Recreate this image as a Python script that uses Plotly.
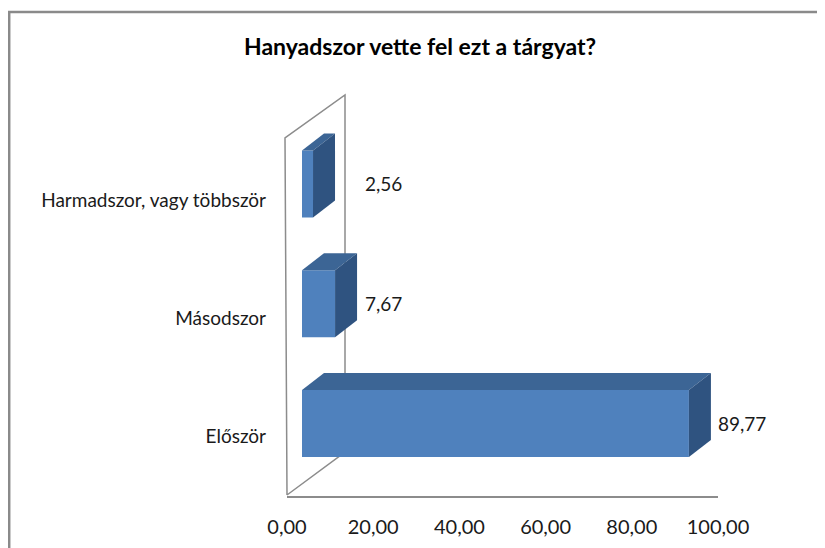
import plotly.graph_objects as go

# ---- data ----
categories = ["Először", "Másodszor", "Harmadszor, vagy többször"]
values = [89.77, 7.67, 2.56]
value_labels = ["89,77", "7,67", "2,56"]
tick_values = [0, 20, 40, 60, 80, 100]
tick_labels = ["0,00", "20,00", "40,00", "60,00", "80,00", "100,00"]
title_text = "Hanyadszor vette fel ezt a tárgyat?"

# ---- layout geometry (pixels of the 825x548 window) ----
W, H = 825, 548
OFF = 8  # page body margin
def px(x):
    return (x - OFF) / W
def py(y):
    return 1 - (y - OFF) / H

FONT = "Lato"
FRONT = "#4F81BD"
TOP = "#3C6595"
SIDE = "#2F5380"
GRID = "#8C8C8C"
TXT = "#1a1a1a"

# bar axes (front faces of the bars)
bx0, bx1 = 302, 733          # x=0 and x=100
by_lo, by_hi = 483.4, 124.1  # y=-0.5 and y=2.5
sx = (bx1 - bx0) / 100.0
sy = (by_lo - by_hi) / 3.0
depth_dx, depth_dy = 22, 17  # depth of bars in pixels
ddx = depth_dx / sx
ddy = depth_dy / sy
bar_w = 0.56

idx = list(range(len(categories)))

fig = go.Figure()
fig.add_trace(go.Bar(
    x=values, y=idx, orientation="h", width=bar_w,
    marker=dict(color=FRONT, line=dict(width=0)),
    xaxis="x", yaxis="y", hoverinfo="skip", showlegend=False,
))

shapes = []
# outer frame
shapes.append(dict(type="path", xref="paper", yref="paper",
                   path=f"M {px(9.2)},{py(548)} L {px(9.2)},{py(12)} L {px(825)},{py(12)}",
                   line=dict(color="#8A8A8A", width=2.5), layer="below"))
# side wall + floor edge
wall = (f"M {px(287)},{py(495)} L {px(285)},{py(138)} L {px(345)},{py(95)} "
        f"L {px(345)},{py(452)} L {px(287)},{py(495)}")
shapes.append(dict(type="path", xref="paper", yref="paper", path=wall,
                   line=dict(color=GRID, width=1.5), layer="below"))

# 3D faces computed from the data
for i, v in zip(idx, values):
    yt = i + bar_w / 2
    yb = i - bar_w / 2
    top = f"M 0,{yt} L {v},{yt} L {v + ddx},{yt + ddy} L {ddx},{yt + ddy} Z"
    side = f"M {v},{yb} L {v},{yt} L {v + ddx},{yt + ddy} L {v + ddx},{yb + ddy} Z"
    shapes.append(dict(type="path", xref="x", yref="y", path=top,
                       fillcolor=TOP, line=dict(width=0), layer="above"))
    shapes.append(dict(type="path", xref="x", yref="y", path=side,
                       fillcolor=SIDE, line=dict(width=0), layer="above"))

annotations = []
min_label_x = 13.0
for i, v, t in zip(idx, values, value_labels):
    annotations.append(dict(x=max(v + ddx, min_label_x), y=i, xref="x", yref="y",
                            text=t, showarrow=False, xanchor="left", yanchor="middle",
                            xshift=5, font=dict(family=FONT, size=19, color=TXT)))
annotations.append(dict(x=px(420), y=py(46), xref="paper", yref="paper",
                        text=f"<b>{title_text}</b>", showarrow=False,
                        xanchor="center", yanchor="middle",
                        font=dict(family=FONT, size=23, color="#000000")))

fig.update_layout(
    width=W, height=H,
    margin=dict(l=0, r=0, t=0, b=0, pad=0),
    paper_bgcolor="white", plot_bgcolor="rgba(0,0,0,0)",
    showlegend=False,
    font=dict(family=FONT, size=19, color=TXT),
    xaxis=dict(domain=[px(bx0), px(bx1)], range=[0, 100], visible=False,
               anchor="y", fixedrange=True, automargin=False),
    yaxis=dict(domain=[py(by_lo), py(by_hi)], range=[-0.5, 2.5], visible=False,
               anchor="x", fixedrange=True, automargin=False),
    xaxis2=dict(domain=[px(287), px(718)], range=[0, 100], anchor="y2",
                tickvals=tick_values, ticktext=tick_labels, showgrid=False,
                zeroline=False, showline=True, linecolor=GRID, linewidth=1.5,
                ticks="", ticklabelstandoff=12, automargin=False,
                tickfont=dict(family=FONT, size=20, color=TXT)),
    yaxis2=dict(domain=[py(496), py(140.75)], range=[-0.5, 2.5], anchor="x2",
                tickvals=idx, ticktext=categories, showgrid=False, zeroline=False,
                showline=False, ticks="", ticklabelstandoff=20, automargin=False,
                tickfont=dict(family=FONT, size=19, color=TXT)),
    shapes=shapes,
    annotations=annotations,
)
# invisible trace to activate the second axis pair
fig.add_trace(go.Scatter(x=[0], y=[0], xaxis="x2", yaxis="y2", mode="markers",
                         marker=dict(opacity=0), hoverinfo="skip", showlegend=False))

fig.write_html("out.html")
